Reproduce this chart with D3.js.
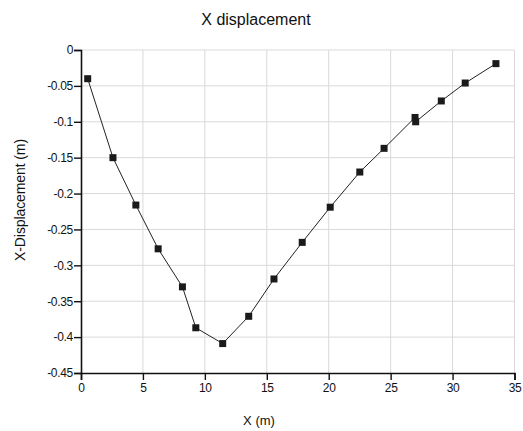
<!DOCTYPE html>
<html>
<head>
<meta charset="utf-8">
<script src="https://cdn.jsdelivr.net/npm/d3@7"></script>
<style>
  body { margin: 0; background: #fff; }
  text { font-family: "Liberation Sans", Arial, sans-serif; fill: #111; }
</style>
</head>
<body>
<div id="chart"></div>
<script>
// values
const xValues = [0.54, 2.58, 4.43, 6.23, 8.19, 9.27, 11.44, 13.54, 15.58, 17.86,
                 20.12, 22.51, 24.47, 26.97, 27.02, 29.09, 31.02, 33.5];
const yValues = [-0.040, -0.150, -0.216, -0.277, -0.330, -0.387, -0.409, -0.371, -0.319, -0.268,
                 -0.219, -0.170, -0.137, -0.094, -0.100, -0.071, -0.046, -0.019];
const xTicks = [0, 5, 10, 15, 20, 25, 30, 35];
const yTicks = [0, -0.05, -0.1, -0.15, -0.2, -0.25, -0.3, -0.35, -0.4, -0.45];

const W = 523, H = 431;
const margin = {top: 50, right: 8, bottom: 58, left: 81};
const width = W - margin.left - margin.right,
      height = H - margin.top - margin.bottom;

const svg = d3.select("#chart")
  .append("svg")
    .attr("width", W)
    .attr("height", H);

const g = svg.append("g")
  .attr("transform", "translate(" + margin.left + "," + margin.top + ")");

const xScale = d3.scaleLinear().domain([0, 35]).range([0, width - 0.5]);
const yScale = d3.scaleLinear().domain([-0.45, 0]).range([height, 0]);

// grid
g.selectAll(".vgrid")
  .data(xTicks.slice(1))
  .join("line")
    .attr("x1", d => xScale(d)).attr("x2", d => xScale(d))
    .attr("y1", 0).attr("y2", height)
    .attr("stroke", "#d9d9d9").attr("stroke-width", 1);

g.selectAll(".hgrid")
  .data(yTicks.slice(0, -1))
  .join("line")
    .attr("x1", 0).attr("x2", xScale(35))
    .attr("y1", d => yScale(d)).attr("y2", d => yScale(d))
    .attr("stroke", "#d9d9d9").attr("stroke-width", 1);

// axes
const fmt = d => d === 0 ? "0" : String(d);

const xAxis = g.append("g")
  .attr("transform", "translate(0," + height + ")")
  .call(d3.axisBottom(xScale).tickValues(xTicks).tickSize(7).tickPadding(3).tickFormat(fmt));

const yAxis = g.append("g")
  .call(d3.axisLeft(yScale).tickValues(yTicks).tickSize(7).tickPadding(1).tickFormat(fmt));

[xAxis, yAxis].forEach(a => {
  a.select(".domain").attr("stroke", "#111").attr("stroke-width", 1.6);
  a.selectAll(".tick line").attr("stroke", "#111").attr("stroke-width", 1.4);
  a.selectAll(".tick text")
    .attr("fill", "#111")
    .style("font-size", "12px")
    .style("font-family", "'Liberation Sans', Arial, sans-serif")
    .style("letter-spacing", "-0.3px");
});

// line
const pts = xValues.map((x, i) => [x, yValues[i]]);
g.append("path")
  .datum(pts)
  .attr("fill", "none")
  .attr("stroke", "#222")
  .attr("stroke-width", 1)
  .attr("d", d3.line().x(d => xScale(d[0])).y(d => yScale(d[1])));

// markers
const m = 7;
g.selectAll(".marker")
  .data(pts)
  .join("rect")
    .attr("x", d => xScale(d[0]) - m / 2)
    .attr("y", d => yScale(d[1]) - m / 2)
    .attr("width", m).attr("height", m)
    .attr("fill", "#1a1a1a");

// titles
svg.append("text")
  .attr("x", 256).attr("y", 25)
  .attr("text-anchor", "middle")
  .style("font-size", "16px")
  .text("X displacement");

svg.append("text")
  .attr("x", 259).attr("y", 425)
  .attr("text-anchor", "middle")
  .style("font-size", "13px")
  .text("X (m)");

svg.append("text")
  .attr("transform", "translate(25,200) rotate(-90)")
  .attr("text-anchor", "middle")
  .style("font-size", "14px")
  .style("letter-spacing", "-0.1px")
  .text("X-Displacement (m)");
</script>
</body>
</html>
